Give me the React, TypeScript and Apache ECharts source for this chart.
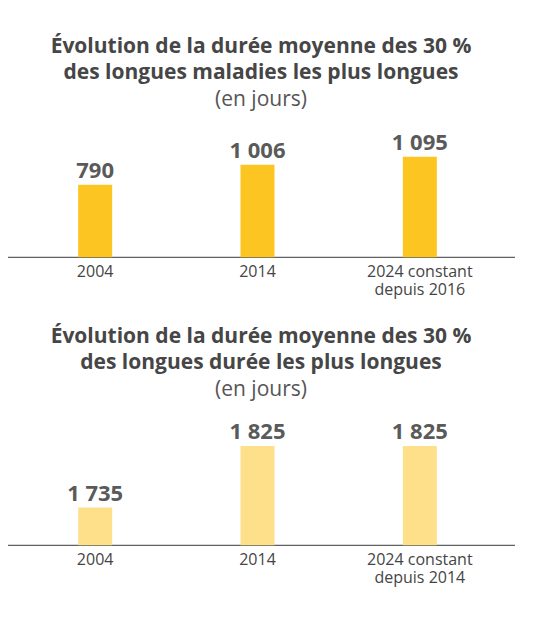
import React, { useEffect, useRef } from "react";
import * as echarts from "echarts";

const categoriesTop = ["2004", "2014", "2024 constant\ndepuis 2016"];
const valuesTop = [790, 1006, 1095];
const categoriesBottom = ["2004", "2014", "2024 constant\ndepuis 2014"];
const valuesBottom = [1735, 1825, 1825];

const titleTopLines = ["Évolution de la durée moyenne des 30 %", "des longues maladies les plus longues"];
const titleBottomLines = ["Évolution de la durée moyenne des 30 %", "des longues durée les plus longues"];
const subtitleText = "(en jours)";

const fmt = (v: number) => String(v).replace(/\B(?=(\d{3})+(?!\d))/g, " ");

const FONT = "'Open Sans'";

export default function App() {
  const ref = useRef<HTMLDivElement>(null);
  useEffect(() => {
    if (!ref.current) return;
    const chart = echarts.init(ref.current, null, { renderer: "svg" });
    const titleStyle = (text: string, y: number, bold: boolean, size: number) => ({
      type: "text",
      x: 261,
      y,
      style: {
        text,
        fill: bold ? "#464646" : "#555555",
        font: `${bold ? "bold " : ""}${size}px ${FONT}, sans-serif`,
        textAlign: "center",
        textVerticalAlign: "middle",
      },
    });
    const axisLabel = {
      color: "#454545",
      fontSize: 16,
      fontFamily: FONT,
      lineHeight: 18,
      margin: 5,
      interval: 0,
    };
    const barLabel = {
      show: true,
      position: "top",
      distance: 5,
      color: "#5a5a5a",
      fontSize: 22,
      fontWeight: "bold",
      fontFamily: FONT,
      formatter: (p: any) => fmt(p.value),
    };
    chart.setOption({
      animation: false,
      backgroundColor: "#ffffff",
      grid: [
        { left: 14, width: 487, top: 147, height: 110.3 },
        { left: 14, width: 487, top: 408.2, height: 137.1 },
      ],
      xAxis: [
        {
          type: "category",
          gridIndex: 0,
          data: categoriesTop,
          axisLine: { show: false },
          axisTick: { show: false },
          axisLabel,
        },
        {
          type: "category",
          gridIndex: 1,
          data: categoriesBottom,
          axisLine: { show: false },
          axisTick: { show: false },
          axisLabel,
        },
      ],
      yAxis: [
        { type: "value", gridIndex: 0, min: 0, max: 1200, show: false, splitLine: { show: false } },
        { type: "value", gridIndex: 1, min: 1680, max: 1880, show: false, splitLine: { show: false } },
      ],
      series: [
        {
          type: "bar",
          xAxisIndex: 0,
          yAxisIndex: 0,
          data: valuesTop,
          barWidth: 34,
          itemStyle: { color: "#fdc521" },
          label: barLabel,
        },
        {
          type: "bar",
          xAxisIndex: 1,
          yAxisIndex: 1,
          data: valuesBottom,
          barWidth: 34,
          itemStyle: { color: "#fee08b" },
          label: barLabel,
        },
      ],
      graphic: [
        titleStyle(titleTopLines[0], 45, true, 21),
        titleStyle(titleTopLines[1], 71, true, 21),
        titleStyle(subtitleText, 98, false, 21),
        titleStyle(titleBottomLines[0], 335, true, 21),
        titleStyle(titleBottomLines[1], 361, true, 21),
        titleStyle(subtitleText, 388, false, 21),
        {
          type: "line",
          shape: { x1: 8, y1: 257.3, x2: 515, y2: 257.3 },
          style: { stroke: "#3a3a3a", lineWidth: 1 },
        },
        {
          type: "line",
          shape: { x1: 8, y1: 545.3, x2: 515, y2: 545.3 },
          style: { stroke: "#3a3a3a", lineWidth: 1 },
        },
      ],
    });
    return () => chart.dispose();
  }, []);
  return (
    <div
      ref={ref}
      style={{ position: "absolute", left: 0, top: 0, width: 545, height: 619 }}
    />
  );
}
